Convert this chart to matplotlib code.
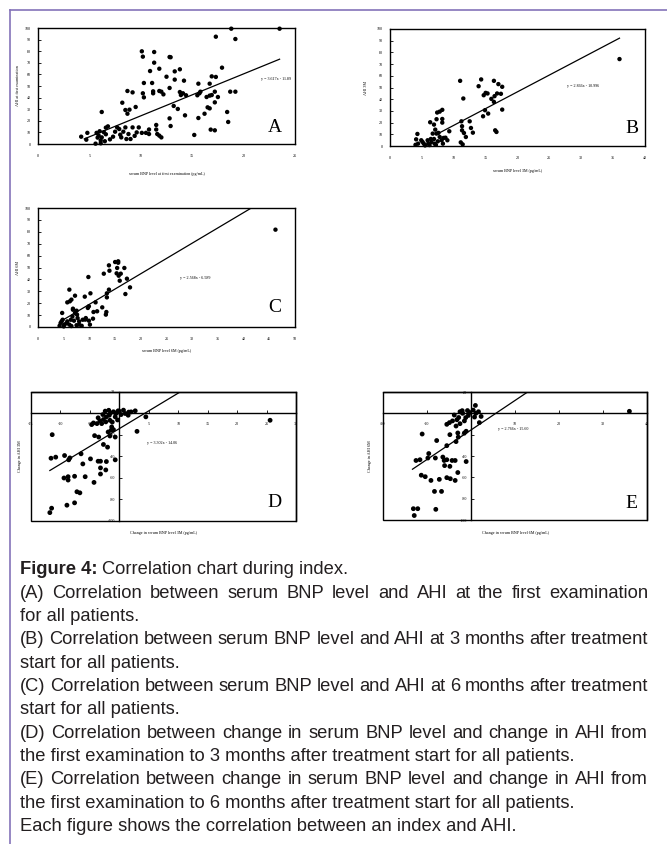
import matplotlib
matplotlib.use("Agg")
import matplotlib.pyplot as plt
from matplotlib.lines import Line2D
import numpy as np

# ====== DATA ======
# (A) serum BNP at first examination vs AHI at first examination
a_points = [
    (23.5, 99.4), (18.8, 99.4), (19.2, 90.5), (17.3, 92.5),
    (10.1, 79.9), (11.3, 79.3), (10.2, 75.3), (11.3, 70.1), (12.8, 75.0), (12.9, 74.8),
    (11.8, 64.9), (10.9, 62.9), (13.8, 64.4), (13.3, 62.6), (17.9, 65.8),
    (16.9, 58.3), (17.3, 57.8), (12.5, 58.0), (13.3, 55.5), (14.2, 54.6),
    (10.3, 52.6), (11.1, 52.6), (15.6, 52.0), (16.7, 52.0),
    (8.7, 45.7), (9.2, 44.5), (10.2, 43.7), (10.3, 40.2), (11.2, 45.4), (11.2, 43.7),
    (11.8, 45.7), (12.0, 45.1), (12.2, 42.8), (12.8, 48.3), (13.8, 44.8), (13.9, 42.2),
    (14.1, 43.7), (14.4, 42.0), (15.5, 42.0), (15.7, 43.7), (15.8, 45.1), (16.4, 40.5),
    (16.7, 41.7), (16.9, 42.2), (17.2, 45.1), (17.5, 40.5), (18.7, 45.1), (19.2, 45.1),
    (17.2, 35.9), (16.5, 31.6), (16.7, 30.7), (16.2, 26.1), (15.6, 22.4), (14.3, 24.7),
    (13.2, 32.8), (13.6, 30.2), (8.2, 35.6), (9.5, 31.9), (8.5, 29.3), (8.9, 29.6),
    (8.7, 26.1), (6.2, 27.6), (12.8, 22.1), (12.9, 15.5), (11.5, 16.4), (18.4, 27.6),
    (18.5, 19.0), (16.8, 12.4), (17.2, 11.8), (15.2, 7.8),
    (4.2, 6.3), (4.7, 3.7), (4.8, 9.6), (5.6, 0.3), (5.7, 9.6), (5.9, 7.3), (6.1, 3.0),
    (6.2, 5.7), (6.4, 10.2), (6.5, 2.4), (6.6, 14.1), (6.8, 15.2), (6.6, 8.4), (6.1, 0.6),
    (7.3, 6.3), (7.5, 10.6), (7.7, 14.3), (7.9, 12.9), (8.1, 5.7), (8.3, 10.6), (8.5, 14.3),
    (8.6, 4.3), (8.8, 8.6), (9.0, 4.3), (9.2, 14.3), (9.6, 10.0), (9.8, 14.3), (10.1, 9.6),
    (10.5, 9.6), (10.8, 12.5), (10.8, 8.6), (11.5, 12.5), (11.6, 8.6), (11.8, 7.2),
    (12.0, 5.7), (5.8, 5.5), (6.0, 11.0), (7.0, 4.0), (8.0, 8.0), (9.4, 7.0),
]

# (B) serum BNP 3M vs AHI 3M
b_points = [
    (36.0, 74.3), (11.0, 55.7), (14.3, 56.9), (13.9, 51.1), (16.3, 55.7), (17.0, 52.9),
    (17.6, 50.6), (15.0, 45.4), (15.3, 44.9), (14.7, 43.4), (15.9, 40.3), (16.4, 42.6),
    (16.8, 44.9), (17.4, 44.6), (16.3, 37.7), (11.5, 40.6), (14.9, 30.6), (15.4, 27.7),
    (14.6, 25.4), (17.6, 31.1), (7.4, 28.6), (7.8, 29.4), (8.2, 30.9), (8.2, 23.1),
    (8.2, 20.0), (7.3, 22.9), (6.3, 20.3), (6.9, 18.3), (11.2, 21.1), (11.3, 16.9),
    (11.3, 13.4), (11.6, 11.1), (12.5, 21.1), (12.7, 15.4), (13.0, 11.4), (11.9, 7.7),
    (11.1, 3.1), (11.4, 1.4), (9.3, 12.6), (8.7, 7.1), (8.4, 6.9), (16.5, 13.4),
    (16.7, 12.0), (4.3, 10.3), (4.1, 5.7), (4.4, 2.0), (4.9, 4.9), (5.3, 2.0),
    (5.9, 4.9), (6.0, 2.0), (6.4, 6.0), (6.5, 3.4), (6.9, 6.0), (7.0, 2.0),
    (7.3, 10.6), (7.5, 4.0), (7.8, 7.7), (8.1, 4.9), (8.3, 2.0), (9.0, 4.9),
    (6.7, 10.6), (7.1, 14.0), (7.6, 11.2), (4.0, 1.0), (5.5, 0.5), (6.2, 0.8),
    (7.2, 1.0), (5.1, 3.5),
]

# (C) serum BNP 6M vs AHI 6M
c_points = [
    (46.2, 81.8), (15.0, 54.6), (15.6, 55.2), (16.8, 49.6), (15.4, 49.6), (13.8, 51.8),
    (13.9, 47.3), (12.8, 44.8), (15.3, 45.1), (15.7, 43.1), (16.1, 44.8), (17.3, 40.6),
    (15.9, 38.9), (17.9, 33.3), (17.0, 27.7), (13.8, 31.4), (13.4, 28.3), (13.4, 24.9),
    (13.3, 12.6), (13.2, 10.4), (12.5, 16.5), (11.2, 20.7), (10.2, 28.3), (9.8, 42.0),
    (10.8, 12.6), (11.5, 13.2), (10.7, 7.0), (10.1, 2.0), (9.1, 25.5), (9.7, 16.0),
    (9.9, 17.4), (9.2, 6.2), (7.2, 26.3), (6.1, 31.4), (5.7, 20.7), (6.2, 21.6),
    (6.5, 23.0), (6.8, 15.4), (7.5, 13.7), (7.6, 10.4), (4.7, 11.8), (4.4, 3.4),
    (4.6, 4.8), (4.8, 6.1), (5.1, 2.0), (5.7, 4.7), (6.1, 2.0), (6.4, 6.1),
    (6.7, 8.9), (7.0, 5.3), (6.8, 14.5), (7.2, 11.7), (7.7, 7.5), (8.0, 4.7),
    (8.0, 2.0), (8.7, 6.1), (9.3, 7.5), (9.9, 5.3), (4.2, 1.0), (5.0, 0.5),
    (6.5, 0.8), (7.5, 1.5), (8.5, 1.0), (15.6, 54.0), (5.5, 3.0),
]

# (D) change in serum BNP 3M vs change in AHI 3M
d_points = [
    (25.6, -6.3), (4.5, -3.1), (3.0, -16.6), (2.7, 2.5), (1.6, 1.3), (0.7, 3.1),
    (-0.2, 2.5), (-1.0, 1.6), (-2.4, 2.2), (-1.7, -1.6), (-2.2, -3.1), (-2.7, -5.6),
    (-3.3, -6.9), (-3.8, -9.4), (-4.4, -8.8), (-4.7, -10.3), (-3.0, -9.4), (-2.3, -7.8),
    (-1.6, -6.3), (-0.7, -3.1), (-0.6, 0.0), (1.0, 0.0), (1.5, -1.6), (-1.3, -12.5),
    (-1.9, -17.2), (-1.4, -15.6), (-1.0, -15.0), (-0.7, -21.9), (-1.6, -20.9), (-4.2, -20.6),
    (-3.5, -21.9), (-11.4, -19.7), (-2.7, -28.8), (-2.0, -31.3), (-11.6, -41.6), (-10.8, -40.6),
    (-9.3, -39.1), (-8.4, -41.3), (-8.6, -43.1), (-6.5, -37.5), (-6.2, -46.9), (-4.9, -42.2),
    (-3.6, -44.4), (-3.2, -44.4), (-2.2, -44.7), (-0.7, -43.1), (-3.2, -50.6), (-2.3, -52.5),
    (-3.2, -56.3), (-9.4, -60.0), (-8.7, -58.8), (-8.7, -61.9), (-7.6, -58.4), (-5.8, -58.8),
    (-4.3, -64.1), (-7.2, -72.8), (-6.7, -73.8), (-8.9, -85.3), (-7.6, -83.1), (-11.5, -88.1),
    (-11.8, -92.2), (-0.5, 0.5), (-1.5, 0.5), (0.3, -1.0), (-2.8, -1.0), (-3.6, -4.0),
    (-1.2, -8.0), (-0.3, -6.0), (2.0, 1.5), (0.0, 2.0), (-1.8, 3.0),
]

# (E) change in serum BNP 6M vs change in AHI 6M
e_points = [
    (36.0, 1.9), (1.0, 7.4), (2.3, -2.9), (1.9, -8.7), (1.1, 0.0), (-0.8, 2.6), (-1.9, 0.0),
    (-2.8, -3.9), (-3.8, -1.6), (-4.2, -7.1), (-4.9, -8.7), (-5.5, -10.3), (-3.4, -11.9),
    (-2.5, -9.7), (-1.5, -7.1), (-1.1, -16.8), (-1.5, -18.4), (-3.0, -18.4), (-4.8, -20.0),
    (-11.1, -19.4), (-7.8, -25.5), (-2.9, -22.3), (-3.4, -26.5), (-5.5, -30.3), (-9.6, -37.7),
    (-9.8, -41.9), (-12.5, -44.2), (-11.6, -43.5), (-8.1, -41.9), (-6.4, -41.0), (-6.1, -44.2),
    (-5.5, -43.5), (-4.3, -44.2), (-3.6, -44.2), (-6.0, -49.0), (-4.8, -49.7), (-1.1, -45.2),
    (-3.0, -55.5), (-11.3, -58.0), (-10.4, -59.4), (-9.1, -62.9), (-7.2, -61.9), (-5.5, -60.3),
    (-4.7, -61.3), (-3.6, -62.9), (-8.3, -73.2), (-6.7, -73.2), (-13.1, -89.4), (-12.1, -89.4),
    (-8.0, -90.0), (-12.9, -95.8), (-0.3, 0.8), (-2.5, 1.5), (0.5, 3.0), (-1.2, -4.0),
    (-3.2, -6.0), (-0.6, -2.0), (-2.0, 2.5), (1.7, 1.5), (0.8, -3.5),
]

# regression lines: slope, intercept, x range of the drawn line
fit_a = (3.617, -11.89, 4.5, 23.5)
fit_b = (2.866, -10.996, 7.3, 36.0)
fit_c = (2.568, -6.589, 4.5, 45.0)
fit_d = (3.302, -14.06, -11.8, 11.0)
fit_e = (2.766, -15.60, -13.3, 13.0)

eq_labels = ["y = 3.617x - 11.89", "y = 2.866x - 10.996", "y = 2.568x - 6.589",
             "y = 3.302x - 14.06", "y = 2.766x - 15.60"]

caption_lines = [
    "(A) Correlation between serum BNP level and AHI at the first examination",
    "for all patients.",
    "(B) Correlation between serum BNP level and AHI at 3 months after treatment",
    "start for all patients.",
    "(C) Correlation between serum BNP level and AHI at 6 months after treatment",
    "start for all patients.",
    "(D) Correlation between change in serum BNP level and change in AHI from",
    "the first examination to 3 months after treatment start for all patients.",
    "(E) Correlation between change in serum BNP level and change in AHI from",
    "the first examination to 6 months after treatment start for all patients.",
    "Each figure shows the correlation between an index and AHI.",
]
justify_flags = [True, False, True, False, True, False, True, False, True, False, False]

# ====== LAYOUT ======
W, H = 667, 844
SERIF = "Liberation Serif"
fig = plt.figure(figsize=(W / 100, H / 100), dpi=100)


def px_rect(l, t, r, b):
    return [l / W, 1 - b / H, (r - l) / W, (b - t) / H]


def plain_panel(rect, pts, fit, xmax, xstep, letter, eq_xy, xlabel, ylabel, ylab_x, xlab_y):
    ax = fig.add_axes(rect)
    x, y = zip(*pts)
    ax.scatter(x, y, s=10, c="black", edgecolors="none", zorder=3, clip_on=False)
    k, b, x0, x1 = fit
    xs = np.array([x0, x1])
    ax.plot(xs, k * xs + b, color="black", lw=0.9)
    ax.set_xlim(0, xmax)
    ax.set_ylim(0, 100)
    ax.set_xticks(np.arange(0, xmax + 1, xstep))
    ax.set_yticks(np.arange(0, 101, 10))
    ax.tick_params(axis="x", length=0, pad=7, labelsize=3)
    ax.tick_params(axis="y", direction="in", length=2, width=0.6, pad=5, labelsize=3)
    for lab in ax.get_xticklabels() + ax.get_yticklabels():
        lab.set_family(SERIF)
    for s in ax.spines.values():
        s.set_linewidth(1.0)
    ax.text(eq_xy[0], eq_xy[1], letter[1], fontsize=3, family=SERIF, ha="center", va="center")
    ax.text(letter[2], letter[3], letter[0], transform=ax.transAxes, fontsize=14,
            family=SERIF, ha="center", va="center")
    ax.set_xlabel(xlabel, fontsize=3, family=SERIF)
    ax.xaxis.set_label_coords(0.5, xlab_y)
    ax.set_ylabel(ylabel, fontsize=3, family=SERIF)
    ax.yaxis.set_label_coords(ylab_x, 0.5)
    return ax


def cross_panel(rect, pts, fit, xlim, xstep, letter, eq_xy, xlabel, ylabel, ylab_x, xlab_y):
    ax = fig.add_axes(rect)
    x, y = zip(*pts)
    ax.scatter(x, y, s=12, c="black", edgecolors="none", zorder=3, clip_on=False)
    k, b, x0, x1 = fit
    xs = np.array([x0, x1])
    ax.plot(xs, k * xs + b, color="black", lw=0.9)
    ax.set_xlim(*xlim)
    ax.set_ylim(-100, 20)
    xt = np.arange(xlim[0], xlim[1] + 1, xstep)
    yt = np.arange(-100, 21, 20)
    ax.set_xticks(xt)
    ax.set_xticklabels(["" if v == 0 else str(v) for v in xt])
    ax.set_yticks(yt)
    ax.set_yticklabels(["" if v == 0 else str(v) for v in yt])
    ax.spines["left"].set_position(("data", 0))
    ax.spines["bottom"].set_position(("data", 0))
    for s in ax.spines.values():
        s.set_linewidth(1.0)
    ax.patch.set_edgecolor("black")
    ax.patch.set_linewidth(1.0)
    ax.tick_params(axis="x", direction="in", length=2, width=0.6, pad=6, labelsize=3)
    ax.tick_params(axis="y", direction="in", length=2, width=0.6, pad=3, labelsize=3)
    for lab in ax.get_xticklabels() + ax.get_yticklabels():
        lab.set_family(SERIF)
    ax.text(eq_xy[0], eq_xy[1], letter[1], fontsize=3, family=SERIF, ha="center", va="center")
    ax.text(letter[2], letter[3], letter[0], transform=ax.transAxes, fontsize=14,
            family=SERIF, ha="center", va="center")
    ax.text(0.5, xlab_y, xlabel, transform=ax.transAxes, fontsize=3, family=SERIF,
            ha="center", va="center")
    ax.text(ylab_x, 0.5, ylabel, transform=ax.transAxes, fontsize=3, family=SERIF,
            ha="center", va="center", rotation=90)
    return ax


plain_panel(px_rect(38, 28, 295, 144), a_points, fit_a, 25, 5,
            ("A", eq_labels[0], 0.92, 0.14), (23.2, 56),
            "serum BNP level at first examination (pg/mL)", "AHI at first examination",
            -0.07, -0.24)
plain_panel(px_rect(390, 29, 645, 146), b_points, fit_b, 40, 5,
            ("B", eq_labels[1], 0.95, 0.15), (30.3, 51),
            "serum BNP level 3M (pg/mL)", "AHI 3M", -0.085, -0.2)
plain_panel(px_rect(38, 208, 295, 327), c_points, fit_c, 50, 5,
            ("C", eq_labels[2], 0.92, 0.16), (30.5, 41),
            "serum BNP level 6M (pg/mL)", "AHI 6M", -0.07, -0.185)
cross_panel(px_rect(31, 392, 296, 521), d_points, fit_d, (-15, 30), 5,
            ("D", eq_labels[3], 0.92, 0.14), (7.2, -27.4),
            "Change in serum BNP level 3M (pg/mL)", "Change in AHI 3M", -0.04, -0.09)
cross_panel(px_rect(383, 392, 647, 520), e_points, fit_e, (-20, 40), 10,
            ("E", eq_labels[4], 0.94, 0.13), (9.5, -14.7),
            "Change in serum BNP level 6M (pg/mL)", "Change in AHI 6M", -0.05, -0.1)

# ====== FRAME LINES ======
purple = "#8473b9"
fig.add_artist(Line2D([10 / W, 10 / W], [0, 1 - 10 / H], transform=fig.transFigure,
                      color=purple, lw=1.2))
fig.add_artist(Line2D([10 / W, 1], [1 - 10 / H, 1 - 10 / H], transform=fig.transFigure,
                      color=purple, lw=1.2))

# ====== CAPTION ======
cap_font, cap_size = "Liberation Sans", 13.2
cap_color = "#231f20"
renderer = fig.canvas.get_renderer()
X0, X1 = 20, 648
y0, dy = 570, 23.3


def line_text(xpx, ypx, s, **kw):
    return fig.text(xpx / W, 1 - ypx / H, s, fontsize=cap_size, family=cap_font,
                    color=cap_color, va="center", ha="left", **kw)


t = line_text(X0, y0, "Figure 4:", weight="bold")
wb = t.get_window_extent(renderer).width
line_text(X0 + wb + cap_size * 0.35, y0, "Correlation chart during index.")

for i, (s, just) in enumerate(zip(caption_lines, justify_flags)):
    ypx = y0 + dy * (i + 1)
    if not just:
        line_text(X0, ypx, s)
        continue
    words = s.split()
    texts = [line_text(0, ypx, w) for w in words]
    widths = [tt.get_window_extent(renderer).width for tt in texts]
    gap = (X1 - X0 - sum(widths)) / (len(words) - 1)
    xpos = X0
    for tt, w in zip(texts, widths):
        tt.set_x(xpos / W)
        xpos += w + gap

fig.savefig("out.png", dpi=100)
